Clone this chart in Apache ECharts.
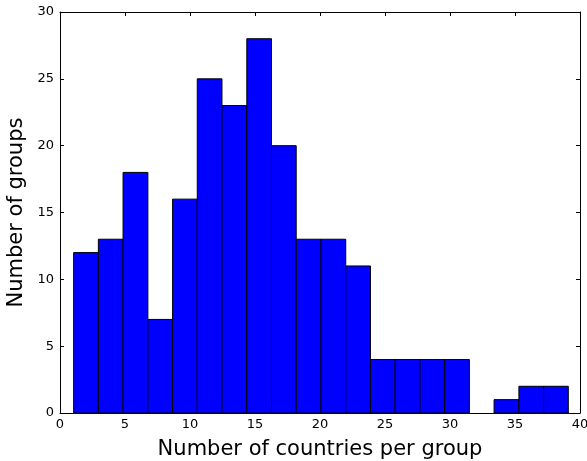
<!DOCTYPE html>
<html><head><meta charset="utf-8">
<script src="https://cdn.jsdelivr.net/npm/echarts@6/dist/echarts.min.js"></script>
<style>html,body{margin:0;padding:0;background:#fff}#c{width:587px;height:461px}</style>
</head><body><div id="c"></div>
<script>
const binEdges = [1.05, 2.95, 4.85, 6.76, 8.66, 10.56, 12.46, 14.37, 16.27, 18.17, 20.08, 21.98, 23.88, 25.78, 27.69, 29.59, 31.49, 33.39, 35.30, 37.20, 39.10];
const counts = [12, 13, 18, 7, 16, 25, 23, 28, 20, 13, 13, 11, 4, 4, 4, 4, 0, 1, 2, 2];
const xTicks = [0, 5, 10, 15, 20, 25, 30, 35, 40];
const yTicks = [0, 5, 10, 15, 20, 25, 30];
const xTitle = 'Number of countries per group';
const yTitle = 'Number of groups';

const font = 'DejaVu Sans';
const data = counts.map((c, i) => [binEdges[i], binEdges[i + 1], c]);
const chart = echarts.init(document.getElementById('c'), null, {renderer: 'canvas'});
const axisCommon = {
  type: 'value',
  axisLine: {show: true, onZero: false, lineStyle: {color: '#000', width: 1}},
  axisTick: {show: true, inside: true, length: 4, lineStyle: {color: '#000'}},
  splitLine: {show: false}
};
chart.setOption({
  animation: false,
  grid: {left: 60, top: 12, right: 7, bottom: 48, containLabel: false, outerBoundsMode: 'none'},
  xAxis: [
    Object.assign({}, axisCommon, {min: xTicks[0], max: xTicks[xTicks.length - 1], interval: 5, position: 'bottom',
      axisLabel: {color: '#000', fontFamily: font, fontSize: 13, margin: 5},
      name: xTitle, nameLocation: 'middle', nameGap: 26, nameTextStyle: {color: '#000', fontFamily: font, fontSize: 21}}),
    Object.assign({}, axisCommon, {min: xTicks[0], max: xTicks[xTicks.length - 1], interval: 5, position: 'top', axisLabel: {show: false}})
  ],
  yAxis: [
    Object.assign({}, axisCommon, {min: yTicks[0], max: yTicks[yTicks.length - 1], interval: 5, position: 'left',
      axisLabel: {color: '#000', fontFamily: font, fontSize: 13, margin: 6},
      name: yTitle, nameLocation: 'middle', nameGap: 26, nameTextStyle: {color: '#000', fontFamily: font, fontSize: 21}}),
    Object.assign({}, axisCommon, {min: yTicks[0], max: yTicks[yTicks.length - 1], interval: 5, position: 'right', axisLabel: {show: false}})
  ],
  series: [{
    type: 'custom',
    xAxisIndex: 0, yAxisIndex: 0,
    data: data,
    encode: {x: [0, 1], y: 2},
    renderItem: function (params, api) {
      if (api.value(2) <= 0) return null;
      const p0 = api.coord([api.value(0), api.value(2)]);
      const p1 = api.coord([api.value(1), 0]);
      return {
        type: 'rect',
        shape: {x: p0[0], y: p0[1], width: p1[0] - p0[0], height: p1[1] - p0[1]},
        style: {fill: '#0000ff', stroke: '#000', lineWidth: 1}
      };
    }
  }]
});
</script></body></html>
